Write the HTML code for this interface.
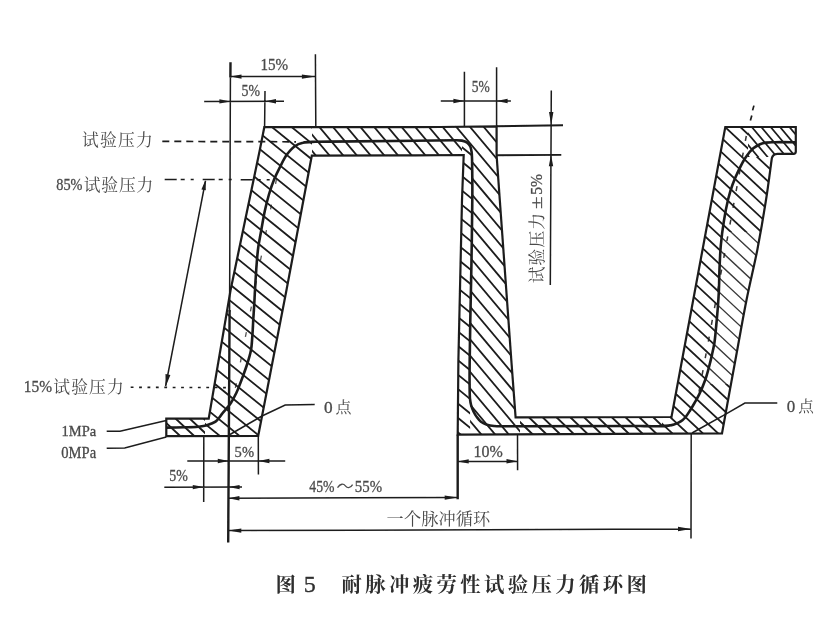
<!DOCTYPE html>
<html lang="zh"><head><meta charset="utf-8"><title>图5 耐脉冲疲劳性试验压力循环图</title>
<style>
html,body{margin:0;padding:0;background:#fff}
body{width:834px;height:628px;overflow:hidden;font-family:"Liberation Serif","Noto Serif CJK SC",serif}
svg{display:block}
text{font-family:"Liberation Serif","Noto Serif CJK SC",serif}
</style></head><body>
<svg width="834" height="628" viewBox="0 0 834 628">
<defs>
<clipPath id="band"><path d="M166.3 418.7L208.7 418.7L230.6 290L259.8 150L264.3 127.2L380 127.2L440 127.0L496.6 126.3L496.6 155.3L499.8 200L511.3 360L515.6 417.3L671.5 417.0L725.3 127.0L795.8 127.0L795.8 151.5Q795.8 153.8 793.5 153.8L777.5 153.8Q772.6 153.9 771.8 158.5C770.8 165.4 768.3 185.5 766.0 200.0C763.5 215.9 760.5 233.4 757.3 250.0C754.0 266.7 750.0 282.5 746.5 300.0C742.7 319.1 739.3 339.0 735.4 360.0C731.1 383.2 724.2 421.2 722.0 433.4L457.7 434.6L458.4 360L462.0 200L463.7 155.0L400 155.4L311.8 155.7L286.5 290L258.2 435.8L166.3 436.2Z"/></clipPath>
<clipPath id="c25"><path d="M205 440V405H198L253 120H312V440Z"/></clipPath>
<clipPath id="c26"><path d="M160 410H205V440H160Z"/></clipPath>
<clipPath id="c27"><path d="M312 120H455V140.3L462 140.6V157H312Z"/></clipPath>
<clipPath id="c28"><path d="M462.0 157.0L462.0 140.6L467.2 142.6L470.3 146.5L471.6 152.0L472.2 170.0L472.3 200.0L471.5 260.0L470.3 320.0L469.7 360.0L469.6 385.0L470.0 398.8L470.2 445.0L455.0 445.0L455.0 157.0Z"/></clipPath>
<clipPath id="c29"><path d="M455.0 120.0L455.0 140.3L462.0 140.6L467.2 142.6L470.3 146.5L471.6 152.0L472.2 170.0L472.3 200.0L471.5 260.0L470.3 320.0L469.7 360.0L469.6 385.0L470.0 398.8L470.2 445.0L520.0 445.0L520.0 120.0Z"/></clipPath>
<clipPath id="c30"><path d="M520 410H662V440H520Z"/></clipPath>
<clipPath id="r2main"><path d="M662 120H748V157H800V445H662Z"/></clipPath>
<clipPath id="r2lo"><rect x="662" y="384" width="140" height="60"/></clipPath>
<clipPath id="r2mid"><rect x="662" y="232" width="140" height="152"/></clipPath>
<clipPath id="r2hi"><rect x="662" y="120" width="140" height="112"/></clipPath>
<clipPath id="c35"><path d="M662 120V426.2C664.4 426.1 666.4 425.9 668.5 425.6C670.4 425.3 672.3 424.9 674.0 424.4C675.6 423.9 677.1 423.3 678.5 422.6C679.9 421.9 681.2 421.2 682.4 420.2C683.8 419.1 685.0 417.7 686.2 416.2C687.4 414.7 688.4 413.1 689.6 411.2C691.1 408.8 692.9 405.8 694.5 403.0C696.1 400.2 697.6 397.7 699.2 394.4C701.2 390.3 703.5 384.7 705.2 380.0C706.8 375.6 707.9 371.3 709.0 367.0C710.1 362.8 711.1 358.7 712.0 354.6C712.9 350.7 713.7 347.3 714.4 343.0C715.2 337.7 715.7 331.2 716.3 325.0C716.9 318.5 717.6 311.2 718.0 305.0C718.4 299.6 718.7 295.4 718.9 290.0C719.2 283.6 719.2 276.2 719.5 269.0C719.8 261.4 720.1 253.4 720.8 245.5C721.5 237.6 722.5 229.4 723.8 221.6C725.0 213.9 726.6 205.6 728.2 199.0C729.5 193.7 730.8 189.5 732.5 184.8C734.2 180.0 736.4 175.0 738.6 170.4C740.8 165.9 743.0 161.3 745.6 157.5C747.9 154.0 750.6 150.6 753.3 148.3C755.5 146.4 757.8 145.2 760.0 144.2C762.0 143.3 763.8 142.9 766.0 142.6C768.7 142.2 771.4 142.3 775.0 142.2C780.5 142.1 792.3 142.2 795.8 142.2L800 120Z"/></clipPath>
<clipPath id="c36"><path d="M662 445V426.2C664.4 426.1 666.4 425.9 668.5 425.6C670.4 425.3 672.3 424.9 674.0 424.4C675.6 423.9 677.1 423.3 678.5 422.6C679.9 421.9 681.2 421.2 682.4 420.2C683.8 419.1 685.0 417.7 686.2 416.2C687.4 414.7 688.4 413.1 689.6 411.2C691.1 408.8 692.9 405.8 694.5 403.0C696.1 400.2 697.6 397.7 699.2 394.4C701.2 390.3 703.5 384.7 705.2 380.0C706.8 375.6 707.9 371.3 709.0 367.0C710.1 362.8 711.1 358.7 712.0 354.6C712.9 350.7 713.7 347.3 714.4 343.0C715.2 337.7 715.7 331.2 716.3 325.0C716.9 318.5 717.6 311.2 718.0 305.0C718.4 299.6 718.7 295.4 718.9 290.0C719.2 283.6 719.2 276.2 719.5 269.0C719.8 261.4 720.1 253.4 720.8 245.5C721.5 237.6 722.5 229.4 723.8 221.6C725.0 213.9 726.6 205.6 728.2 199.0C729.5 193.7 730.8 189.5 732.5 184.8C734.2 180.0 736.4 175.0 738.6 170.4C740.8 165.9 743.0 161.3 745.6 157.5C747.9 154.0 750.6 150.6 753.3 148.3C755.5 146.4 757.8 145.2 760.0 144.2C762.0 143.3 763.8 142.9 766.0 142.6C768.7 142.2 771.4 142.3 775.0 142.2C780.5 142.1 792.3 142.2 795.8 142.2L800 445Z"/></clipPath>
<clipPath id="c37"><path d="M662 445V426.2C664.4 426.1 666.4 425.9 668.5 425.6C670.4 425.3 672.3 424.9 674.0 424.4C675.6 423.9 677.1 423.3 678.5 422.6C679.9 421.9 681.2 421.2 682.4 420.2C683.8 419.1 685.0 417.7 686.2 416.2C687.4 414.7 688.4 413.1 689.6 411.2C691.1 408.8 692.9 405.8 694.5 403.0C696.1 400.2 697.6 397.7 699.2 394.4C701.2 390.3 703.5 384.7 705.2 380.0C706.8 375.6 707.9 371.3 709.0 367.0C710.1 362.8 711.1 358.7 712.0 354.6C712.9 350.7 713.7 347.3 714.4 343.0C715.2 337.7 715.7 331.2 716.3 325.0C716.9 318.5 717.6 311.2 718.0 305.0C718.4 299.6 718.7 295.4 718.9 290.0C719.2 283.6 719.2 276.2 719.5 269.0C719.8 261.4 720.1 253.4 720.8 245.5C721.5 237.6 722.5 229.4 723.8 221.6C725.0 213.9 726.6 205.6 728.2 199.0C729.5 193.7 730.8 189.5 732.5 184.8C734.2 180.0 736.4 175.0 738.6 170.4C740.8 165.9 743.0 161.3 745.6 157.5C747.9 154.0 750.6 150.6 753.3 148.3C755.5 146.4 757.8 145.2 760.0 144.2C762.0 143.3 763.8 142.9 766.0 142.6C768.7 142.2 771.4 142.3 775.0 142.2C780.5 142.1 792.3 142.2 795.8 142.2L800 445Z"/></clipPath>
<clipPath id="c38"><path d="M662 445V426.2C664.4 426.1 666.4 425.9 668.5 425.6C670.4 425.3 672.3 424.9 674.0 424.4C675.6 423.9 677.1 423.3 678.5 422.6C679.9 421.9 681.2 421.2 682.4 420.2C683.8 419.1 685.0 417.7 686.2 416.2C687.4 414.7 688.4 413.1 689.6 411.2C691.1 408.8 692.9 405.8 694.5 403.0C696.1 400.2 697.6 397.7 699.2 394.4C701.2 390.3 703.5 384.7 705.2 380.0C706.8 375.6 707.9 371.3 709.0 367.0C710.1 362.8 711.1 358.7 712.0 354.6C712.9 350.7 713.7 347.3 714.4 343.0C715.2 337.7 715.7 331.2 716.3 325.0C716.9 318.5 717.6 311.2 718.0 305.0C718.4 299.6 718.7 295.4 718.9 290.0C719.2 283.6 719.2 276.2 719.5 269.0C719.8 261.4 720.1 253.4 720.8 245.5C721.5 237.6 722.5 229.4 723.8 221.6C725.0 213.9 726.6 205.6 728.2 199.0C729.5 193.7 730.8 189.5 732.5 184.8C734.2 180.0 736.4 175.0 738.6 170.4C740.8 165.9 743.0 161.3 745.6 157.5C747.9 154.0 750.6 150.6 753.3 148.3C755.5 146.4 757.8 145.2 760.0 144.2C762.0 143.3 763.8 142.9 766.0 142.6C768.7 142.2 771.4 142.3 775.0 142.2C780.5 142.1 792.3 142.2 795.8 142.2L800 445Z"/></clipPath>
<clipPath id="c39"><path d="M748 120H800V157H748Z"/></clipPath>
<filter id="soft" x="0" y="0" width="834" height="628" filterUnits="userSpaceOnUse"><feGaussianBlur stdDeviation="0.65"/></filter>
</defs>
<rect width="834" height="628" fill="#fff"/>
<g filter="url(#soft)">
<g clip-path="url(#band)"><g clip-path="url(#c25)"><path d="M73.1 -81.8 L623.8 364.1 M65.3 -72.2 L616.0 373.7 M57.5 -62.5 L608.2 383.4 M49.7 -52.9 L600.4 393.0 M41.9 -43.3 L592.5 402.6 M34.1 -33.6 L584.7 412.3 M26.3 -24.0 L576.9 421.9 M18.5 -14.4 L569.1 431.5 M10.7 -4.7 L561.3 441.2 M2.9 4.9 L553.5 450.8 M-4.9 14.6 L545.7 460.5 M-12.7 24.2 L537.9 470.1 M-20.5 33.8 L530.1 479.7 M-28.3 43.5 L522.3 489.4 M-36.1 53.1 L514.5 499.0 M-43.9 62.7 L506.7 508.6 M-51.7 72.4 L498.9 518.3 M-59.5 82.0 L491.1 527.9 M-67.3 91.7 L483.3 537.5 M-75.1 101.3 L475.5 547.2 M-82.9 110.9 L467.7 556.8 M-90.7 120.6 L459.9 566.5 M-98.5 130.2 L452.1 576.1 M-106.4 139.8 L444.3 585.7 M-114.2 149.5 L436.5 595.4 M-122.0 159.1 L428.7 605.0 M-129.8 168.7 L420.9 614.6 M-137.6 178.4 L413.1 624.3 M-145.4 188.0 L405.3 633.9 M-153.2 197.7 L397.5 643.5" stroke="#1c1c1c" stroke-width="1.80" fill="none"/></g><g clip-path="url(#c26)"><path d="M162.6 367.1 L241.7 440.9 M156.0 374.1 L235.1 447.9 M149.5 381.1 L228.6 454.9 M142.9 388.1 L222.0 461.9 M136.4 395.2 L215.5 468.9 M129.8 402.2 L208.9 476.0 M123.3 409.2 L202.4 483.0" stroke="#1c1c1c" stroke-width="1.90" fill="none"/></g><g clip-path="url(#c27)"><path d="M309.9 -129.2 L800.6 455.5 M301.9 -122.5 L792.6 462.3 M293.9 -115.7 L784.5 469.0 M285.8 -109.0 L776.5 475.8 M277.8 -102.2 L768.4 482.5 M269.7 -95.5 L760.4 489.3 M261.7 -88.7 L752.3 496.0 M253.6 -82.0 L744.3 502.8 M245.6 -75.2 L736.2 509.5 M237.6 -68.5 L728.2 516.2 M229.5 -61.7 L720.2 523.0 M221.5 -55.0 L712.1 529.7 M213.4 -48.2 L704.1 536.5 M205.4 -41.5 L696.0 543.2 M197.3 -34.7 L688.0 550.0 M189.3 -28.0 L679.9 556.7 M181.3 -21.2 L671.9 563.5 M173.2 -14.5 L663.9 570.2 M165.2 -7.7 L655.8 577.0 M157.1 -1.0 L647.8 583.7 M149.1 5.8 L639.7 590.5 M141.0 12.5 L631.7 597.2 M133.0 19.3 L623.6 604.0 M124.9 26.0 L615.6 610.7 M116.9 32.8 L607.6 617.5 M108.9 39.5 L599.5 624.2 M100.8 46.3 L591.5 631.0 M92.8 53.0 L583.4 637.7 M84.7 59.7 L575.4 644.5 M76.7 66.5 L567.3 651.2 M68.6 73.2 L559.3 658.0 M60.6 80.0 L551.3 664.7 M52.6 86.7 L543.2 671.5 M44.5 93.5 L535.2 678.2 M36.5 100.2 L527.1 685.0 M28.4 107.0 L519.1 691.7" stroke="#1c1c1c" stroke-width="1.80" fill="none"/></g><g clip-path="url(#c28)"><path d="M327.0 -19.6 L817.1 377.3 M319.9 -10.9 L810.0 386.0 M312.9 -2.2 L803.0 394.7 M305.8 6.5 L795.9 403.4 M298.8 15.2 L788.9 412.1 M291.7 23.9 L781.8 420.8 M284.7 32.6 L774.8 429.5 M277.6 41.3 L767.7 438.2 M270.6 50.0 L760.7 446.9 M263.5 58.7 L753.6 455.6 M256.5 67.5 L746.6 464.3 M249.5 76.2 L739.5 473.0 M242.4 84.9 L732.5 481.7 M235.4 93.6 L725.5 490.4 M228.3 102.3 L718.4 499.1 M221.3 111.0 L711.4 507.8 M214.2 119.7 L704.3 516.5 M207.2 128.4 L697.3 525.3 M200.1 137.1 L690.2 534.0 M193.1 145.8 L683.2 542.7 M186.0 154.5 L676.1 551.4 M179.0 163.2 L669.1 560.1 M171.9 171.9 L662.0 568.8 M164.9 180.6 L655.0 577.5 M157.8 189.3 L647.9 586.2 M150.8 198.0 L640.9 594.9 M143.7 206.7 L633.8 603.6" stroke="#1c1c1c" stroke-width="1.80" fill="none"/></g><g clip-path="url(#c29)"><path d="M309.9 -129.2 L800.6 455.5 M301.9 -122.5 L792.6 462.3 M293.9 -115.7 L784.5 469.0 M285.8 -109.0 L776.5 475.8 M277.8 -102.2 L768.4 482.5 M269.7 -95.5 L760.4 489.3 M261.7 -88.7 L752.3 496.0 M253.6 -82.0 L744.3 502.8 M245.6 -75.2 L736.2 509.5 M237.6 -68.5 L728.2 516.2 M229.5 -61.7 L720.2 523.0 M221.5 -55.0 L712.1 529.7 M213.4 -48.2 L704.1 536.5 M205.4 -41.5 L696.0 543.2 M197.3 -34.7 L688.0 550.0 M189.3 -28.0 L679.9 556.7 M181.3 -21.2 L671.9 563.5 M173.2 -14.5 L663.9 570.2 M165.2 -7.7 L655.8 577.0 M157.1 -1.0 L647.8 583.7 M149.1 5.8 L639.7 590.5 M141.0 12.5 L631.7 597.2 M133.0 19.3 L623.6 604.0 M124.9 26.0 L615.6 610.7 M116.9 32.8 L607.6 617.5 M108.9 39.5 L599.5 624.2 M100.8 46.3 L591.5 631.0 M92.8 53.0 L583.4 637.7 M84.7 59.7 L575.4 644.5 M76.7 66.5 L567.3 651.2 M68.6 73.2 L559.3 658.0 M60.6 80.0 L551.3 664.7 M52.6 86.7 L543.2 671.5 M44.5 93.5 L535.2 678.2 M36.5 100.2 L527.1 685.0 M28.4 107.0 L519.1 691.7" stroke="#1c1c1c" stroke-width="1.80" fill="none"/></g><g clip-path="url(#c30)"><path d="M533.8 275.3 L742.6 476.9 M527.2 282.2 L736.0 483.8 M520.5 289.1 L729.3 490.7 M513.8 296.0 L722.6 497.6 M507.1 302.9 L715.9 504.5 M500.5 309.8 L709.3 511.4 M493.8 316.7 L702.6 518.4 M487.1 323.6 L695.9 525.3 M480.5 330.5 L689.3 532.2 M473.8 337.4 L682.6 539.1 M467.1 344.3 L675.9 546.0 M460.5 351.2 L669.3 552.9 M453.8 358.2 L662.6 559.8 M447.1 365.1 L655.9 566.7 M440.5 372.0 L649.3 573.6" stroke="#1c1c1c" stroke-width="1.90" fill="none"/></g><g clip-path="url(#r2main)"><g clip-path="url(#c35)"><path d="M592.2 -82.2 L1102.0 393.2 M585.1 -74.6 L1094.9 400.8 M578.0 -67.0 L1087.8 408.4 M571.0 -59.4 L1080.7 416.0 M563.9 -51.7 L1073.6 423.6 M556.8 -44.1 L1066.5 431.2 M549.7 -36.5 L1059.4 438.8 M542.6 -28.9 L1052.3 446.4 M535.5 -21.3 L1045.2 454.0 M528.4 -13.7 L1038.1 461.6 M521.3 -6.1 L1031.0 469.2 M514.2 1.5 L1023.9 476.8 M507.1 9.1 L1016.9 484.4 M500.0 16.7 L1009.8 492.0 M492.9 24.3 L1002.7 499.6 M485.8 31.9 L995.6 507.3 M478.7 39.5 L988.5 514.9 M471.7 47.1 L981.4 522.5 M464.6 54.7 L974.3 530.1 M457.5 62.3 L967.2 537.7 M450.4 69.9 L960.1 545.3 M443.3 77.6 L953.0 552.9 M436.2 85.2 L945.9 560.5 M429.1 92.8 L938.8 568.1 M422.0 100.4 L931.7 575.7 M414.9 108.0 L924.7 583.3 M407.8 115.6 L917.6 590.9 M400.7 123.2 L910.5 598.5 M393.6 130.8 L903.4 606.1 M386.5 138.4 L896.3 613.7 M379.5 146.0 L889.2 621.3 M372.4 153.6 L882.1 629.0 M365.3 161.2 L875.0 636.6 M358.2 168.8 L867.9 644.2" stroke="#1c1c1c" stroke-width="1.80" fill="none"/></g><g clip-path="url(#r2lo)"><g clip-path="url(#c36)"><path d="M592.2 -82.2 L1102.0 393.2 M585.1 -74.6 L1094.9 400.8 M578.0 -67.0 L1087.8 408.4 M571.0 -59.4 L1080.7 416.0 M563.9 -51.7 L1073.6 423.6 M556.8 -44.1 L1066.5 431.2 M549.7 -36.5 L1059.4 438.8 M542.6 -28.9 L1052.3 446.4 M535.5 -21.3 L1045.2 454.0 M528.4 -13.7 L1038.1 461.6 M521.3 -6.1 L1031.0 469.2 M514.2 1.5 L1023.9 476.8 M507.1 9.1 L1016.9 484.4 M500.0 16.7 L1009.8 492.0 M492.9 24.3 L1002.7 499.6 M485.8 31.9 L995.6 507.3 M478.7 39.5 L988.5 514.9 M471.7 47.1 L981.4 522.5 M464.6 54.7 L974.3 530.1 M457.5 62.3 L967.2 537.7 M450.4 69.9 L960.1 545.3 M443.3 77.6 L953.0 552.9 M436.2 85.2 L945.9 560.5 M429.1 92.8 L938.8 568.1 M422.0 100.4 L931.7 575.7 M414.9 108.0 L924.7 583.3 M407.8 115.6 L917.6 590.9 M400.7 123.2 L910.5 598.5 M393.6 130.8 L903.4 606.1 M386.5 138.4 L896.3 613.7 M379.5 146.0 L889.2 621.3 M372.4 153.6 L882.1 629.0 M365.3 161.2 L875.0 636.6 M358.2 168.8 L867.9 644.2" stroke="#1c1c1c" stroke-width="1.80" fill="none"/></g></g><g clip-path="url(#r2hi)"><g clip-path="url(#c37)"><path d="M592.2 -82.2 L1102.0 393.2 M585.1 -74.6 L1094.9 400.8 M578.0 -67.0 L1087.8 408.4 M571.0 -59.4 L1080.7 416.0 M563.9 -51.7 L1073.6 423.6 M556.8 -44.1 L1066.5 431.2 M549.7 -36.5 L1059.4 438.8 M542.6 -28.9 L1052.3 446.4 M535.5 -21.3 L1045.2 454.0 M528.4 -13.7 L1038.1 461.6 M521.3 -6.1 L1031.0 469.2 M514.2 1.5 L1023.9 476.8 M507.1 9.1 L1016.9 484.4 M500.0 16.7 L1009.8 492.0 M492.9 24.3 L1002.7 499.6 M485.8 31.9 L995.6 507.3 M478.7 39.5 L988.5 514.9 M471.7 47.1 L981.4 522.5 M464.6 54.7 L974.3 530.1 M457.5 62.3 L967.2 537.7 M450.4 69.9 L960.1 545.3 M443.3 77.6 L953.0 552.9 M436.2 85.2 L945.9 560.5 M429.1 92.8 L938.8 568.1 M422.0 100.4 L931.7 575.7 M414.9 108.0 L924.7 583.3 M407.8 115.6 L917.6 590.9 M400.7 123.2 L910.5 598.5 M393.6 130.8 L903.4 606.1 M386.5 138.4 L896.3 613.7 M379.5 146.0 L889.2 621.3 M372.4 153.6 L882.1 629.0 M365.3 161.2 L875.0 636.6 M358.2 168.8 L867.9 644.2" stroke="#1c1c1c" stroke-width="1.80" fill="none"/></g></g><g clip-path="url(#r2mid)"><g clip-path="url(#c38)"><path d="M592.2 -82.2 L1102.0 393.2 M585.1 -74.6 L1094.9 400.8 M578.0 -67.0 L1087.8 408.4 M571.0 -59.4 L1080.7 416.0 M563.9 -51.7 L1073.6 423.6 M556.8 -44.1 L1066.5 431.2 M549.7 -36.5 L1059.4 438.8 M542.6 -28.9 L1052.3 446.4 M535.5 -21.3 L1045.2 454.0 M528.4 -13.7 L1038.1 461.6 M521.3 -6.1 L1031.0 469.2 M514.2 1.5 L1023.9 476.8 M507.1 9.1 L1016.9 484.4 M500.0 16.7 L1009.8 492.0 M492.9 24.3 L1002.7 499.6 M485.8 31.9 L995.6 507.3 M478.7 39.5 L988.5 514.9 M471.7 47.1 L981.4 522.5 M464.6 54.7 L974.3 530.1 M457.5 62.3 L967.2 537.7 M450.4 69.9 L960.1 545.3 M443.3 77.6 L953.0 552.9 M436.2 85.2 L945.9 560.5 M429.1 92.8 L938.8 568.1 M422.0 100.4 L931.7 575.7 M414.9 108.0 L924.7 583.3 M407.8 115.6 L917.6 590.9 M400.7 123.2 L910.5 598.5 M393.6 130.8 L903.4 606.1 M386.5 138.4 L896.3 613.7 M379.5 146.0 L889.2 621.3 M372.4 153.6 L882.1 629.0 M365.3 161.2 L875.0 636.6 M358.2 168.8 L867.9 644.2" stroke="#3a3a3a" stroke-width="1.35" fill="none"/></g></g></g><g clip-path="url(#c39)"><path d="M758.7 68.0 L840.8 165.8 M753.2 72.6 L835.3 170.4 M747.7 77.3 L829.7 175.0 M742.2 81.9 L824.2 179.7 M736.7 86.5 L818.7 184.3 M731.1 91.1 L813.2 188.9 M725.6 95.8 L807.7 193.6 M720.1 100.4 L802.2 198.2 M714.6 105.0 L796.6 202.8 M709.1 109.7 L791.1 207.4 M703.6 114.3 L785.6 212.1" stroke="#1c1c1c" stroke-width="1.70" fill="none"/></g></g>
<path d="M166.3 418.7L208.7 418.7L230.6 290L259.8 150L264.3 127.2L380 127.2L440 127.0L496.6 126.3L496.6 155.3L499.8 200L511.3 360L515.6 417.3L671.5 417.0L725.3 127.0L795.8 127.0L795.8 151.5Q795.8 153.8 793.5 153.8L777.5 153.8Q772.6 153.9 771.8 158.5C770.8 165.4 768.3 185.5 766.0 200.0C763.5 215.9 760.5 233.4 757.3 250.0C754.0 266.7 750.0 282.5 746.5 300.0C742.7 319.1 739.3 339.0 735.4 360.0C731.1 383.2 724.2 421.2 722.0 433.4L457.7 434.6L458.4 360L462.0 200L463.7 155.0L400 155.4L311.8 155.7L286.5 290L258.2 435.8L166.3 436.2Z" fill="none" stroke="#1c1c1c" stroke-width="2.2" stroke-linejoin="miter"/>
<path d="M166.3 427.6C169.4 427.6 179.3 427.5 185.0 427.3C189.7 427.2 194.1 427.2 198.0 426.8C201.3 426.4 204.1 426.1 207.0 425.2C209.9 424.3 213.0 423.4 215.5 421.6C218.1 419.7 220.2 416.1 222.2 413.7C223.9 411.6 225.5 409.9 227.0 408.0C228.4 406.2 229.7 404.8 231.0 402.7C232.7 400.0 234.7 396.3 236.3 393.0C237.8 389.9 238.8 387.2 240.2 383.5C242.2 378.2 245.3 370.0 247.2 364.0C248.8 359.0 250.1 354.8 251.0 350.0C251.9 345.1 252.0 340.1 252.4 335.0C252.8 329.8 253.0 324.2 253.3 319.0C253.6 314.2 253.9 309.7 254.2 305.0C254.5 300.1 254.7 294.7 255.0 290.0C255.2 285.8 255.4 282.3 255.7 278.0C256.0 273.0 256.4 267.2 256.8 262.0C257.2 256.9 257.6 252.1 258.3 247.0C259.1 241.5 260.3 235.8 261.3 230.0C262.4 223.8 263.5 217.0 264.8 211.0C266.0 205.4 267.3 200.2 268.8 195.0C270.3 189.9 272.0 184.7 273.9 180.0C275.7 175.6 277.6 171.7 279.7 167.6C281.9 163.3 284.2 158.3 286.9 154.6C289.3 151.3 291.9 148.2 294.8 146.2C297.3 144.4 299.9 143.5 303.0 142.8C306.6 141.9 310.8 142.0 315.0 141.8C319.7 141.6 327.5 141.6 330.0 141.6L455 140.3C456.2 140.3 459.9 140.2 462.0 140.6C463.9 141.0 465.8 141.6 467.2 142.6C468.5 143.6 469.6 145.0 470.3 146.5C471.1 148.1 471.3 149.6 471.6 152.0C472.2 156.3 472.1 163.2 472.2 170.0C472.4 178.7 472.4 188.3 472.3 200.0C472.2 216.6 471.8 240.0 471.5 260.0C471.2 280.0 470.6 302.0 470.3 320.0C470.0 334.7 469.8 348.2 469.7 360.0C469.6 369.3 469.5 377.9 469.6 385.0C469.7 390.3 469.6 395.0 470.0 398.8C470.3 401.4 470.6 403.4 471.2 405.5C471.8 407.6 472.6 409.6 473.5 411.5C474.4 413.4 475.5 415.3 476.8 417.0C478.0 418.7 479.3 420.4 481.0 421.7C482.7 423.0 484.9 424.1 487.0 424.8C489.2 425.5 491.4 425.8 494.0 426.0C497.2 426.3 501.0 426.2 505.0 426.2C509.6 426.2 517.5 426.2 520.0 426.2L640 426.0C642.0 426.0 648.2 426.2 652.0 426.2C655.5 426.2 659.0 426.3 662.0 426.2C664.4 426.1 666.4 425.9 668.5 425.6C670.4 425.3 672.3 424.9 674.0 424.4C675.6 423.9 677.1 423.3 678.5 422.6C679.9 421.9 681.2 421.2 682.4 420.2C683.8 419.1 685.0 417.7 686.2 416.2C687.4 414.7 688.4 413.1 689.6 411.2C691.1 408.8 692.9 405.8 694.5 403.0C696.1 400.2 697.6 397.7 699.2 394.4C701.2 390.3 703.5 384.7 705.2 380.0C706.8 375.6 707.9 371.3 709.0 367.0C710.1 362.8 711.1 358.7 712.0 354.6C712.9 350.7 713.7 347.3 714.4 343.0C715.2 337.7 715.7 331.2 716.3 325.0C716.9 318.5 717.6 311.2 718.0 305.0C718.4 299.6 718.7 295.4 718.9 290.0C719.2 283.6 719.2 276.2 719.5 269.0C719.8 261.4 720.1 253.4 720.8 245.5C721.5 237.6 722.5 229.4 723.8 221.6C725.0 213.9 726.6 205.6 728.2 199.0C729.5 193.7 730.8 189.5 732.5 184.8C734.2 180.0 736.4 175.0 738.6 170.4C740.8 165.9 743.0 161.3 745.6 157.5C747.9 154.0 750.6 150.6 753.3 148.3C755.5 146.4 757.8 145.2 760.0 144.2C762.0 143.3 763.8 142.9 766.0 142.6C768.7 142.2 771.4 142.3 775.0 142.2C780.5 142.1 792.3 142.2 795.8 142.2" fill="none" stroke="#1c1c1c" stroke-width="2.6" stroke-linejoin="round"/>
<path d="M276.5 179 L233 400" stroke="#1c1c1c" stroke-width="1.3" stroke-dasharray="5 21" fill="none" opacity=".75"/>
<path d="M753.9 105.6 L752.6 110.4 M751.8 115.6 L750.4 120.6" stroke="#1c1c1c" stroke-width="1.7" fill="none"/>
<path d="M746.3 136 L697.5 400" stroke="#1c1c1c" stroke-width="1.5" stroke-dasharray="5 12" fill="none" opacity=".9"/>
<path d="M230.4 77.5 L229.6 312.0 M315.4 54.3 L315.8 126.0 M265.0 91.0 L264.6 127.0 M230.4 76.6 L315.4 76.6 M204.2 101.4 L284.0 101.2 M464.4 71.7 L464.4 127.0 M496.6 67.3 L496.6 126.3 M440.8 101.0 L510.9 101.0 M551.3 90.5 L550.3 285.0 M203.8 436.0 L203.7 502.0 M258.3 436.0 L258.4 474.5 M187.3 461.0 L285.2 461.0 M164.3 487.2 L242.0 487.0 M228.4 498.2 L457.7 497.6 M228.3 530.6 L691.0 529.0 M517.5 434.5 L517.6 470.3 M457.7 461.4 L517.5 461.2 M691.2 433.8 L691.0 538.5 M106.7 431.3 L120 431.2 L166.3 420.4 M106.7 448.2 L124.7 448 L166.3 437.1 M230 434.5 L262 416 L285.2 405.1 L314.7 404.4 M692 433 L726.2 413.8 L744.9 403.0 L777.3 403.0 M205.5 181.0 L165.6 386.0" fill="none" stroke="#1c1c1c" stroke-width="1.5"/>
<path d="M230.5 62.2 L230.4 77.5 M229.6 310.0 L228.2 542.5 M457.7 434.5 L457.7 499.2" fill="none" stroke="#1c1c1c" stroke-width="2.4"/>
<path d="M496.6 126.2 L563.0 125.2 M496.6 155.3 L561.3 154.9" fill="none" stroke="#1c1c1c" stroke-width="1.9"/>
<path d="M162.3 141.4 L296 141.8" stroke="#1c1c1c" stroke-width="1.7" stroke-dasharray="7 5" fill="none"/>
<path d="M164.7 179.5 L277 179.7" stroke="#1c1c1c" stroke-width="1.5" stroke-dasharray="12 4 4 6 3 9" fill="none"/>
<path d="M130.7 387.3 L228 387.6" stroke="#1c1c1c" stroke-width="1.6" stroke-dasharray="2.8 5.6" fill="none"/>
<path d="M230.5 76.6 L241.5 74.4 L241.5 78.8 Z M315.4 76.6 L301.9 78.8 L301.9 74.4 Z M230.4 101.4 L219.4 103.6 L219.4 99.2 Z M265.0 101.2 L276.0 99.0 L276.0 103.4 Z M464.4 101.0 L453.4 103.2 L453.4 98.8 Z M496.6 101.0 L507.6 98.8 L507.6 103.2 Z M551.2 124.9 L549.0 111.9 L553.4 111.9 Z M551.0 154.7 L553.2 166.2 L548.8 166.2 Z M228.8 461.0 L217.8 463.2 L217.8 458.8 Z M258.4 461.0 L269.4 458.8 L269.4 463.2 Z M203.8 487.1 L192.8 489.3 L192.8 484.9 Z M228.6 487.1 L239.6 484.9 L239.6 489.3 Z M228.4 498.2 L239.4 496.0 L239.4 500.4 Z M457.7 497.6 L444.7 499.8 L444.7 495.4 Z M228.3 530.6 L241.3 528.4 L241.3 532.8 Z M691.0 529.0 L678.0 531.2 L678.0 526.8 Z M457.7 461.4 L468.7 459.2 L468.7 463.6 Z M517.5 461.2 L506.5 463.4 L506.5 459.0 Z M165.6 386.8 L165.5 374.1 L170.4 375.0 Z M205.5 180.0 L205.8 190.2 L201.4 189.4 Z" fill="#1c1c1c"/>
<text transform="translate(260.4 70.1) scale(0.880 1)" font-size="17.2" fill="#4a4a4a" stroke="#4a4a4a" stroke-width=".3">15%</text>
<text transform="translate(241.5 96.0) scale(0.806 1)" font-size="17.2" fill="#4a4a4a" stroke="#4a4a4a" stroke-width=".3">5%</text>
<text transform="translate(471.8 92.0) scale(0.787 1)" font-size="17.2" fill="#4a4a4a" stroke="#4a4a4a" stroke-width=".3">5%</text>
<text transform="translate(234.6 457.3) scale(0.935 1)" font-size="15.6" fill="#4a4a4a" stroke="#4a4a4a" stroke-width=".3">5%</text>
<text transform="translate(169.2 480.9) scale(0.861 1)" font-size="16.2" fill="#4a4a4a" stroke="#4a4a4a" stroke-width=".3">5%</text>
<text transform="translate(473.6 457.3) scale(0.928 1)" font-size="17.2" fill="#4a4a4a" stroke="#4a4a4a" stroke-width=".3">10%</text>
<text transform="translate(309.3 491.8) scale(0.801 1)" font-size="17.2" fill="#4a4a4a" stroke="#4a4a4a" stroke-width=".3">45%</text>
<text transform="translate(354.8 491.8) scale(0.865 1)" font-size="17.2" fill="#4a4a4a" stroke="#4a4a4a" stroke-width=".3">55%</text>
<path d="M337.5 487.6 C340.5 483.2 343.6 483.6 345.4 485.9 C347.2 488.2 350 488.8 352.6 484.6" fill="none" stroke="#4a4a4a" stroke-width="1.3"/>
<text transform="translate(61.5 436.0) scale(0.955 1)" font-size="15.2" fill="#4a4a4a" stroke="#4a4a4a" stroke-width=".3">1MPa</text>
<text transform="translate(61.3 458.4) scale(0.923 1)" font-size="15.8" fill="#4a4a4a" stroke="#4a4a4a" stroke-width=".3">0MPa</text>
<text transform="translate(56.3 189.6) scale(0.873 1)" font-size="16.4" fill="#4a4a4a" stroke="#4a4a4a" stroke-width=".3">85%</text>
<text transform="translate(23.8 392.2) scale(0.941 1)" font-size="16.4" fill="#4a4a4a" stroke="#4a4a4a" stroke-width=".3">15%</text>
<text transform="translate(324.0 413.0) scale(1.038 1)" font-size="16.6" fill="#4a4a4a" stroke="#4a4a4a" stroke-width=".3">0</text>
<text transform="translate(786.8 411.6) scale(0.971 1)" font-size="17.5" fill="#4a4a4a" stroke="#4a4a4a" stroke-width=".3">0</text>
<text x="82.0" y="146.4" font-size="16.8" textLength="70.8" lengthAdjust="spacing" fill="#4a4a4a" font-family="'Liberation Serif','Noto Serif CJK SC',serif">试验压力</text>
<text x="83.7" y="190.8" font-size="16.8" textLength="69.6" lengthAdjust="spacing" fill="#4a4a4a" font-family="'Liberation Serif','Noto Serif CJK SC',serif">试验压力</text>
<text x="53.3" y="392.9" font-size="16.8" textLength="70.5" lengthAdjust="spacing" fill="#4a4a4a" font-family="'Liberation Serif','Noto Serif CJK SC',serif">试验压力</text>
<text x="335.6" y="412.7" font-size="16.0" fill="#4a4a4a" font-family="'Liberation Serif','Noto Serif CJK SC',serif">点</text>
<text x="798.2" y="411.9" font-size="15.6" fill="#4a4a4a" font-family="'Liberation Serif','Noto Serif CJK SC',serif">点</text>
<text x="386.6" y="524.9" font-size="17.2" textLength="103.7" lengthAdjust="spacing" fill="#4a4a4a" font-family="'Liberation Serif','Noto Serif CJK SC',serif">一个脉冲循环</text>
<g transform="translate(542.6 283.2) rotate(-90)"><text x="0.0" y="0.0" font-size="16.8" textLength="70.2" lengthAdjust="spacing" fill="#4a4a4a" font-family="'Liberation Serif','Noto Serif CJK SC',serif">试验压力</text><text transform="translate(74.3 -0.3) scale(1.302 1)" font-size="17.5" fill="#4a4a4a" stroke="#4a4a4a" stroke-width=".3">±</text><text transform="translate(88.4 -0.3) scale(0.904 1)" font-size="17.2" fill="#4a4a4a" stroke="#4a4a4a" stroke-width=".3">5%</text></g>
<text x="275.4" y="591.9" font-size="20.4" font-weight="bold" fill="#2e2e2e" font-family="'Liberation Serif','Noto Serif CJK SC',serif">图</text>
<text transform="translate(303.8 592.0) scale(1.065 1)" font-size="22.6" fill="#2e2e2e" stroke="#2e2e2e" stroke-width=".3">5</text>
<text x="341.6" y="591.9" font-size="20.4" font-weight="bold" textLength="305.4" lengthAdjust="spacing" fill="#2e2e2e" font-family="'Liberation Serif','Noto Serif CJK SC',serif">耐脉冲疲劳性试验压力循环图</text>
</g>
</svg>
</body></html>
